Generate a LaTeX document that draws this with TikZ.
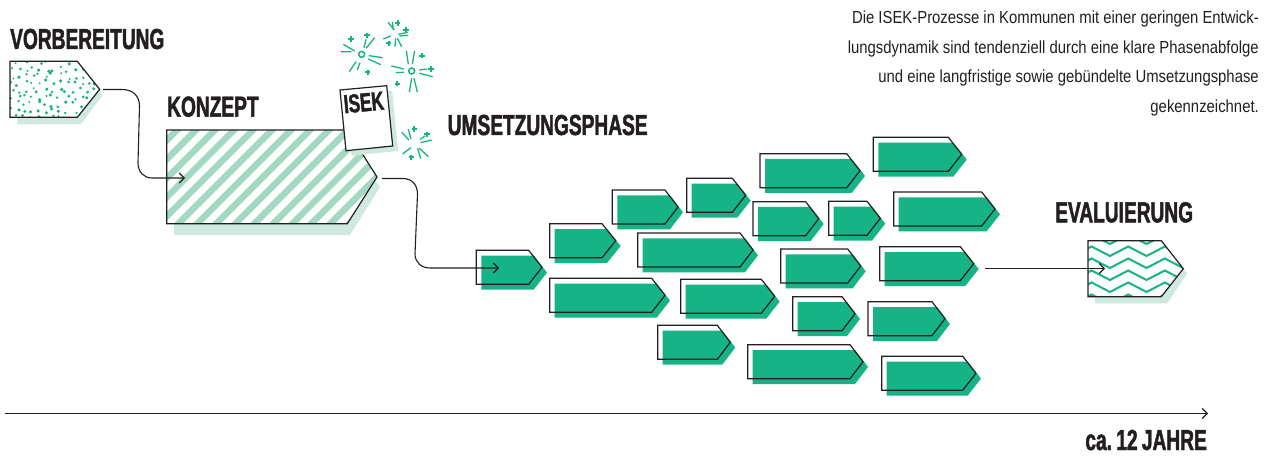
\documentclass[tikz,border=0pt]{standalone}
\usepackage{fontspec}
\setmainfont{Liberation Sans}
\newfontfamily\headfont[FakeStretch=0.66,FakeBold=1.6]{Liberation Sans Bold}
\newfontfamily\bodyfont[FakeStretch=0.85]{Liberation Sans}
\usetikzlibrary{arrows.meta}
\definecolor{ink}{HTML}{231F20}
\definecolor{gruen}{HTML}{16B386}
\definecolor{hell}{HTML}{CFE9DF}
\definecolor{streifen}{HTML}{A3D9C3}
\tikzset{
  outline/.style={draw=ink,line width=1.2pt,line join=miter},
  conn/.style={draw=ink,line width=1.1pt,-{Straight Barb[length=5pt,width=10pt,line width=1.1pt]}},
  head/.style={font=\headfont\fontsize{29}{29}\selectfont,text=ink,inner sep=0pt,anchor=base west},
  body/.style={font=\bodyfont\fontsize{17.5}{29.4}\selectfont,text=ink,inner sep=0pt,align=right},
}
\newcommand{\arrowbox}[6]{%
  \pgfmathsetmacro{\ybot}{#3+#6}\pgfmathsetmacro{\ymid}{#3+#6/2}%
  \fill[gruen,shift={(5,5.3)}] (#2,#3) -- (#4,#3) -- (#5,\ymid) -- (#4,\ybot) -- (#2,\ybot) -- cycle;
  \path[outline] (#2,#3) -- (#4,#3) -- (#5,\ymid) -- (#4,\ybot) -- (#2,\ybot) -- cycle;
  \coordinate (#1) at (#5,\ymid);}
\begin{document}
\begin{tikzpicture}[x=1pt,y=-1pt]
\useasboundingbox (0,0) rectangle (1274,457);
\fill[white] (0,0) rectangle (1274,457);

% Vorbereitung
\fill[hell] (17.3,68) -- (80.7,68) -- (102.7,95) -- (80.7,124.3) -- (17.3,124.3) -- cycle;
\fill[white] (10,61.3) -- (77.3,61.3) -- (99.7,89.3) -- (77.3,117.3) -- (10,117.3) -- cycle;
\begin{scope}
  \clip (10,61.3) -- (77.3,61.3) -- (99.7,89.3) -- (77.3,117.3) -- (10,117.3) -- cycle;
  \pgfmathsetseed{4711}
  \foreach \i in {0,...,13}{\foreach \j in {0,...,8}{
    \pgfmathsetmacro{\dx}{11+\i*7+rand*3}
    \pgfmathsetmacro{\dy}{62+\j*7+rand*3}
    \pgfmathsetmacro{\dr}{1+rnd*0.8}
    \fill[gruen] (\dx,\dy) circle[radius=\dr];
  }}
\end{scope}
\path[outline] (10,61.3) -- (77.3,61.3) -- (99.7,89.3) -- (77.3,117.3) -- (10,117.3) -- cycle;
\coordinate (vorb-out) at (103,89.5);

% Konzept
\fill[hell] (174,140) -- (350,140) -- (380,187) -- (350,235) -- (174,235) -- cycle;
\fill[white] (166.7,130) -- (347.3,130) -- (377,177) -- (347.3,223.7) -- (166.7,223.7) -- cycle;
\begin{scope}
  \clip (166.7,130) -- (347.3,130) -- (377,177) -- (347.3,223.7) -- (166.7,223.7) -- cycle;
  \foreach \k in {0,...,20}{
    \pgfmathsetmacro{\sx}{67+\k*19}
    \draw[streifen,line width=6.6pt] (\sx,240) -- ++(120,-120);
  }
\end{scope}
\path[outline] (166.7,130) -- (347.3,130) -- (377,177) -- (347.3,223.7) -- (166.7,223.7) -- cycle;
\coordinate (konzept-in) at (185,178);
\coordinate (konzept-out) at (382,178.5);

% ISEK-Blatt
\fill[hell,shift={(5.5,5)}] (340,90) -- (386.7,85.7) -- (392.7,146) -- (346,150.7) -- cycle;
\path[outline,fill=white] (340,90) -- (386.7,85.7) -- (392.7,146) -- (346,150.7) -- cycle;
\node[font=\headfont\fontsize{26}{26}\selectfont,text=ink,inner sep=0pt,rotate=5.5,anchor=base west] (isek) at (344.5,113.3) {ISEK};

% Funken
\begin{scope}[shift={(300,0)},x=0.3333pt,y=-0.3333pt]
  \draw[draw=gruen,line width=1.5pt,fill=white] (185,163) circle[radius=3pt];
  \draw[draw=gruen,line width=1.5pt,fill=white] (335,213) circle[radius=3pt];
  \begin{scope}[draw=gruen,line width=1.3pt]
    \draw (192,143)--(198,118) (198,145)--(224,113) (164,153)--(130,133) (155,155)--(122,155)
          (207,167)--(248,173) (205,177)--(242,194) (168,185)--(148,215) (180,188)--(172,210);
    \draw (325,192)--(319,152) (337,192)--(344,152) (312,207)--(274,198) (312,217)--(288,218)
          (358,210)--(382,207) (358,220)--(398,230) (335,235)--(328,276) (342,235)--(352,276);
    \draw (283,90)--(264,67) (280,90)--(277,65) (273,108)--(250,117) (295,103)--(323,97)
          (298,108)--(325,106) (287,115)--(285,140) (292,115)--(305,140);
    \draw (327,420)--(305,397) (333,417)--(325,388) (360,418)--(375,408) (362,428)--(395,420)
          (333,443)--(308,462) (353,445)--(362,476) (358,445)--(385,470);
  \end{scope}
  \foreach \cx/\cy in {153/117,201/106,203/217,366/167,393/207,292/251,293/69,318/89,266/130,343/387,381/403,334/472}{
    \pgfmathsetmacro{\xa}{\cx-8}\pgfmathsetmacro{\xb}{\cx+8}
    \pgfmathsetmacro{\ya}{\cy-8}\pgfmathsetmacro{\yb}{\cy+8}
    \draw[draw=gruen,line width=2pt] (\xa,\cy) -- (\xb,\cy) (\cx,\ya) -- (\cx,\yb);
  }
\end{scope}

% Umsetzungsphase
\arrowbox{a0}{476.3}{250.3}{528.7}{542}{34}
\arrowbox{a1}{549.7}{223.7}{602}{615.7}{34}
\arrowbox{a2}{612.3}{190}{665}{678}{34}
\arrowbox{a3}{686.7}{178.3}{732.3}{745.7}{34}
\arrowbox{a4}{637.7}{233}{740}{753}{34}
\arrowbox{a5}{549.7}{278.3}{651.7}{665}{34}
\arrowbox{a6}{680.7}{279.3}{761.3}{774.7}{34}
\arrowbox{a7}{657.7}{325.3}{717.3}{730.3}{34}
\arrowbox{a8}{760}{153.7}{846.7}{860}{34}
\arrowbox{a9}{873.3}{137.3}{948.3}{961.7}{34}
\arrowbox{a10}{753}{201.7}{805.7}{818.7}{34}
\arrowbox{a11}{828.7}{201.3}{867}{880.3}{34}
\arrowbox{a12}{893.7}{192}{981.7}{995}{34}
\arrowbox{a13}{780.7}{249}{847.7}{860.7}{34}
\arrowbox{a14}{879.7}{246.7}{960.3}{973.7}{34}
\arrowbox{a15}{792.7}{296.7}{842}{855}{34}
\arrowbox{a16}{868}{301.7}{932}{945}{34}
\arrowbox{a17}{747.7}{344.7}{850}{863}{34}
\arrowbox{a18}{881.7}{356.3}{962.7}{976}{34}
\coordinate (umsetzung-in) at (499,268);
\coordinate (umsetzung-out) at (985,268.5);

% Evaluierung
\fill[hell] (1095,250) -- (1167.3,250) -- (1187.3,273.3) -- (1167.3,303.3) -- (1095,303.3) -- cycle;
\fill[white] (1088,240.7) -- (1161.3,240.7) -- (1183.3,268.7) -- (1161.3,296.7) -- (1088,296.7) -- cycle;
\begin{scope}
  \clip (1088,240.7) -- (1161.3,240.7) -- (1183.3,268.7) -- (1161.3,296.7) -- (1088,296.7) -- cycle;
  \foreach \r in {-2,-1,...,5}{
    \pgfmathsetmacro{\py}{246.5+\r*12}
    \pgfmathsetmacro{\vy}{\py+9.5}
    \draw[gruen,line width=2pt,line join=miter]
      (1073.3,\vy) -- (1091.6,\py) -- (1109.9,\vy) -- (1128.2,\py) -- (1146.5,\vy)
      -- (1164.8,\py) -- (1183.1,\vy) -- (1201.4,\py);
  }
\end{scope}
\path[outline] (1088,240.7) -- (1161.3,240.7) -- (1183.3,268.7) -- (1161.3,296.7) -- (1088,296.7) -- cycle;
\coordinate (eval-in) at (1105,268.5);

% Verbinder
\draw[conn] (vorb-out) -- (122,89.5) .. controls (133,89.5) and (139.5,96) .. (139.5,106) -- (138,163) .. controls (138,172) and (144,178) .. (152,178) -- (konzept-in);
\draw[conn] (konzept-out) -- (403,178.5) .. controls (412,178.5) and (417.5,185) .. (417.5,194) -- (415,254) .. controls (415,262) and (421,268) .. (430,268) -- (umsetzung-in);
\draw[conn] (umsetzung-out) -- (eval-in);

% Zeitachse
\coordinate (zeit-start) at (5,413.5);
\coordinate (zeit-ende) at (1208,413.5);
\draw[conn] (zeit-start) -- (zeit-ende);

% Texte
\node[head] (t1) at (10,49) {VORBEREITUNG};
\node[head] (t2) at (167,116.7) {KONZEPT};
\node[head] (t3) at (447.5,135) {UMSETZUNGSPHASE};
\node[head] (t4) at (1055,222.3) {EVALUIERUNG};
\node[head,anchor=base east] (t5) at (1207,450) {ca.\kern-1pt\ 12\kern-1pt\ JAHRE};
\node[body,anchor=north east] (t6) at (1259,11) {Die ISEK-Prozesse in Kommunen mit einer geringen Entwick-\\lungsdynamik sind tendenziell durch eine klare Phasenabfolge\\und eine langfristige sowie gebündelte Umsetzungsphase\\gekennzeichnet.};
\end{tikzpicture}
\end{document}
